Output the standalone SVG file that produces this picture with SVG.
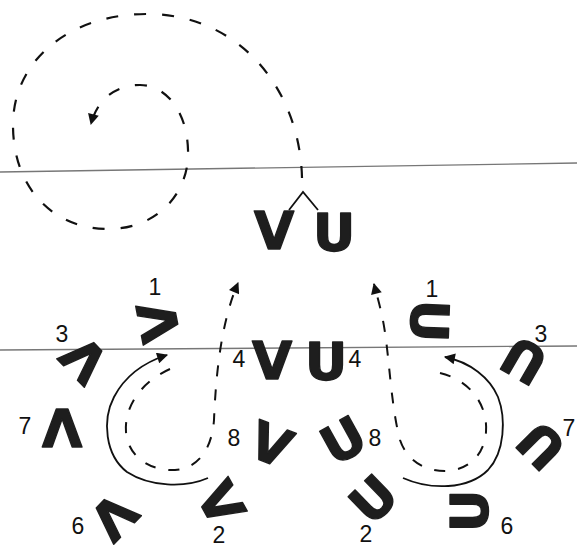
<svg xmlns="http://www.w3.org/2000/svg" width="577" height="549" viewBox="0 0 577 549">
<style>
.L{font-family:"DejaVu Sans",sans-serif;font-weight:bold;font-size:52px;fill:#1e1e1e;stroke:#1e1e1e;stroke-width:1.4;stroke-linejoin:round;text-anchor:middle}
.n{font-family:"Liberation Sans",Arial,sans-serif;font-size:23px;fill:#111;text-anchor:middle}
.rule{stroke:#777;stroke-width:1.3;fill:none}
.dash{stroke:#111;stroke-width:2.2;fill:none;stroke-dasharray:12 16}
.dash2{stroke:#111;stroke-width:2;fill:none;stroke-dasharray:11 13}
.solid{stroke:#111;stroke-width:1.8;fill:none}
</style>
<defs>
<marker id="ah" viewBox="0 0 10 10" refX="9" refY="5" markerUnits="userSpaceOnUse" markerWidth="14" markerHeight="11" orient="auto"><path d="M0,0 L10,5 L0,10 z" fill="#111"/></marker>
</defs>
<rect width="577" height="549" fill="#fff"/>
<g id="rules">
<line class="rule" x1="0" y1="172" x2="577" y2="163"/>
<line class="rule" x1="0" y1="350" x2="577" y2="346"/>
</g>
<g id="connectors">
<path class="dash" d="M302,178 C300,90 240,14 147,14 C70,14 13,60 13,125 C13,190 55,229 108,229 C160,229 190,190 188,150 C187,110 165,85 140,85 C115,85 97,100 91,124" marker-end="url(#ah)"/>
<polyline class="solid" points="289,210 303,192 318,210"/>
<path class="solid" d="M208,478 C185,488 150,487 127,472 C105,455 102,420 114,397 C125,376 145,362 167,355" marker-end="url(#ah)"/>
<path class="dash2" d="M170,369 C143,381 124,405 126,432 C128,457 150,471 175,470 C200,468 212,447 214,420 C216,370 222,320 238,283" marker-end="url(#ah)"/>
<path class="solid" d="M403,478 C430,490 468,490 488,470 C505,452 506,418 498,397 C490,378 470,362 445,357" marker-end="url(#ah)"/>
<path class="dash2" d="M440,373 C470,380 488,405 486,432 C484,458 465,471 445,471 C422,471 406,458 400,440 C392,410 390,370 386,340 C383,315 378,300 374,284" marker-end="url(#ah)"/>
</g>
<g id="topV"><g transform="translate(274,230)"><text class="L" y="19">V</text></g></g>
<g id="topU"><g transform="translate(334,232)"><text class="L" y="19">U</text></g></g>
<g id="v1"><g transform="translate(158,322) rotate(-101)"><text class="L" y="19">V</text></g><text class="n" x="155" y="295">1</text></g>
<g id="v3"><g transform="translate(84,360) rotate(-134)"><text class="L" y="19">V</text></g><text class="n" x="62" y="342">3</text></g>
<g id="v4"><g transform="translate(272,360)"><text class="L" y="19">V</text></g><text class="n" x="239" y="367">4</text></g>
<g id="v7"><g transform="translate(62,428) rotate(180)"><text class="L" y="19">V</text></g><text class="n" x="25" y="434">7</text></g>
<g id="v8"><g transform="translate(271,444) rotate(21)"><text class="L" y="19">V</text></g><text class="n" x="234" y="446">8</text></g>
<g id="v6"><g transform="translate(114,517) rotate(134)"><text class="L" y="19">V</text></g><text class="n" x="78" y="534">6</text></g>
<g id="v2"><g transform="translate(221,503) rotate(61)"><text class="L" y="19">V</text></g><text class="n" x="219" y="543">2</text></g>
<g id="u1"><g transform="translate(430,321) rotate(92)"><text class="L" y="19">U</text></g><text class="n" x="432" y="297">1</text></g>
<g id="u3"><g transform="translate(524,361) rotate(-150)"><text class="L" y="19">U</text></g><text class="n" x="541" y="342">3</text></g>
<g id="u4"><g transform="translate(326,361)"><text class="L" y="19">U</text></g><text class="n" x="355" y="367">4</text></g>
<g id="u7"><g transform="translate(541,446) rotate(-135)"><text class="L" y="19">U</text></g><text class="n" x="569" y="436">7</text></g>
<g id="u8"><g transform="translate(343,440) rotate(-29)"><text class="L" y="19">U</text></g><text class="n" x="375" y="446">8</text></g>
<g id="u6"><g transform="translate(469,511) rotate(-90)"><text class="L" y="19">U</text></g><text class="n" x="507" y="534">6</text></g>
<g id="u2"><g transform="translate(373,499) rotate(-44)"><text class="L" y="19">U</text></g><text class="n" x="366" y="542">2</text></g>
</svg>
